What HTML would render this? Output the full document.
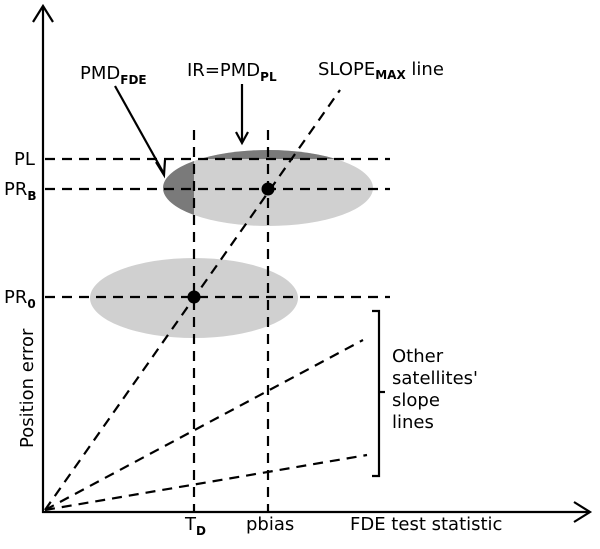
<!DOCTYPE html>
<html><head><style>body{margin:0;background:#fff}svg{display:block}text{font-family:"DejaVu Sans","Liberation Sans",sans-serif;fill:#000}</style></head>
<body>
<svg width="600" height="549" viewBox="0 0 600 549" xmlns="http://www.w3.org/2000/svg">
<defs><clipPath id="c1"><ellipse cx="268" cy="188" rx="105" ry="38"/></clipPath></defs>
<ellipse cx="268" cy="188" rx="105" ry="38" fill="#d0d0d0"/>
<g clip-path="url(#c1)" fill="#7a7a7a">
<rect x="150" y="140" width="44" height="100"/>
<rect x="150" y="140" width="240" height="19"/>
</g>
<ellipse cx="194" cy="298" rx="104" ry="40" fill="#d0d0d0"/>
<g stroke="#000" stroke-width="2.2" fill="none" stroke-dasharray="10,7">
<line x1="45" y1="159" x2="390" y2="159"/>
<line x1="45" y1="189" x2="390" y2="189"/>
<line x1="45" y1="297" x2="390" y2="297"/>
<line x1="194" y1="130" x2="194" y2="512"/>
<line x1="268" y1="130" x2="268" y2="512"/>
<line x1="45" y1="510" x2="340" y2="90"/>
<line x1="45" y1="510" x2="363" y2="340"/>
<line x1="45" y1="510" x2="367" y2="455"/>
</g>
<g stroke="#000" stroke-width="2.2" fill="none">
<line x1="43" y1="6" x2="43" y2="513"/>
<polyline points="33,22 43,6 53,22"/>
<line x1="42" y1="512" x2="590" y2="512"/>
<polyline points="574,502 590,512 574,522"/>
<polyline points="372,311 379,311 379,476 372,476"/>
<line x1="379" y1="392" x2="385" y2="392"/>
<line x1="115" y1="86" x2="163" y2="172"/>
<polyline points="156,162 164,175 165,160"/>
<line x1="242" y1="84" x2="242" y2="142"/>
<polyline points="236,132 242,143 248,132"/>
</g>
<circle cx="194" cy="297" r="6.5"/>
<circle cx="268" cy="189" r="6.5"/>
<g font-size="18">
<text x="14" y="165">PL</text>
<text x="4" y="195">PR<tspan font-size="12" font-weight="bold" dy="5">B</tspan></text>
<text x="4" y="303">PR<tspan font-size="12" font-weight="bold" dy="5">0</tspan></text>
<text x="80" y="79">PMD<tspan font-size="12" font-weight="bold" dy="5">FDE</tspan></text>
<text x="187" y="76">IR=PMD<tspan font-size="12" font-weight="bold" dy="5">PL</tspan></text>
<text x="318" y="75">SLOPE<tspan font-size="12" font-weight="bold" dy="4">MAX</tspan><tspan dy="-4"> line</tspan></text>
<text x="392" y="362">Other</text>
<text x="392" y="384">satellites'</text>
<text x="392" y="406">slope</text>
<text x="392" y="428">lines</text>
<text x="185" y="530">T<tspan font-size="12" font-weight="bold" dy="5">D</tspan></text>
<text x="246" y="530">pbias</text>
<text x="350" y="530">FDE test statistic</text>
<text transform="translate(33,448) rotate(-90)">Position error</text>
</g>
</svg>
</body></html>
